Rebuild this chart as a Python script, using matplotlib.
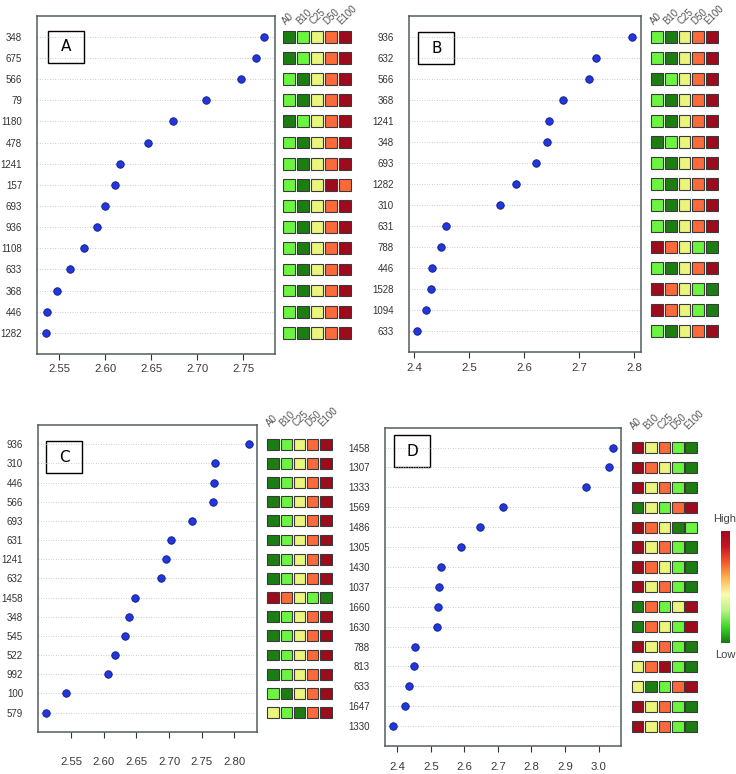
import matplotlib
matplotlib.use("Agg")
import matplotlib.pyplot as plt
from matplotlib.patches import Rectangle
from matplotlib.colors import LinearSegmentedColormap
import numpy as np

plt.rcParams["font.family"] = ["Liberation Sans", "DejaVu Sans"]

W, H = 736, 774

conds = ["A0", "B10", "C25", "D50", "E100"]

# panel A ------------------------------
a_labels = ["348", "675", "566", "79", "1180", "478", "1241", "157", "693", "936",
            "1108", "633", "368", "446", "1282"]
a_values = [2.772, 2.764, 2.747, 2.709, 2.674, 2.646, 2.616, 2.611, 2.600, 2.591,
            2.577, 2.562, 2.547, 2.537, 2.536]
a_ranks = [[1, 2, 3, 4, 5], [1, 2, 3, 4, 5], [2, 1, 3, 4, 5], [2, 1, 3, 4, 5],
           [1, 2, 3, 4, 5], [2, 1, 3, 4, 5], [2, 1, 3, 4, 5], [2, 1, 3, 5, 4],
           [2, 1, 3, 4, 5], [2, 1, 3, 4, 5], [2, 1, 3, 4, 5], [2, 1, 3, 4, 5],
           [2, 1, 3, 4, 5], [2, 1, 3, 4, 5], [2, 1, 3, 4, 5]]

# panel B ------------------------------
b_labels = ["936", "632", "566", "368", "1241", "348", "693", "1282", "310", "631",
            "788", "446", "1528", "1094", "633"]
b_values = [2.796, 2.730, 2.717, 2.670, 2.645, 2.641, 2.621, 2.585, 2.556, 2.458,
            2.449, 2.433, 2.430, 2.422, 2.405]
b_ranks = [[2, 1, 3, 4, 5], [2, 1, 3, 4, 5], [1, 2, 3, 4, 5], [2, 1, 3, 4, 5],
           [2, 1, 3, 4, 5], [1, 2, 3, 4, 5], [2, 1, 3, 4, 5], [2, 1, 3, 4, 5],
           [2, 1, 3, 4, 5], [2, 1, 3, 4, 5], [5, 4, 3, 2, 1], [2, 1, 3, 4, 5],
           [5, 4, 3, 2, 1], [5, 4, 3, 2, 1], [2, 1, 3, 4, 5]]

# panel C ------------------------------
c_labels = ["936", "310", "446", "566", "693", "631", "1241", "632", "1458", "348",
            "545", "522", "992", "100", "579"]
c_values = [2.822, 2.770, 2.769, 2.768, 2.735, 2.703, 2.695, 2.687, 2.648, 2.638,
            2.633, 2.618, 2.606, 2.543, 2.512]
c_ranks = [[1, 2, 3, 4, 5], [1, 2, 3, 4, 5], [1, 2, 3, 4, 5], [1, 2, 3, 4, 5],
           [1, 2, 3, 4, 5], [1, 2, 3, 4, 5], [1, 2, 3, 4, 5], [1, 2, 3, 4, 5],
           [5, 4, 3, 2, 1], [1, 2, 3, 4, 5], [1, 2, 3, 4, 5], [1, 2, 3, 4, 5],
           [1, 2, 3, 4, 5], [2, 1, 3, 4, 5], [3, 2, 1, 4, 5]]

# panel D ------------------------------
d_labels = ["1458", "1307", "1333", "1569", "1486", "1305", "1430", "1037", "1660",
            "1630", "788", "813", "633", "1647", "1330"]
d_values = [3.042, 3.031, 2.963, 2.715, 2.647, 2.589, 2.529, 2.525, 2.522, 2.519,
            2.451, 2.450, 2.435, 2.422, 2.388]
d_ranks = [[5, 3, 4, 2, 1], [5, 4, 3, 2, 1], [5, 3, 4, 2, 1], [1, 3, 2, 4, 5],
           [5, 4, 3, 1, 2], [5, 3, 4, 2, 1], [5, 4, 3, 2, 1], [5, 3, 4, 2, 1],
           [1, 4, 2, 3, 5], [1, 4, 3, 2, 5], [5, 3, 4, 2, 1], [3, 4, 5, 2, 1],
           [3, 1, 2, 4, 5], [5, 3, 4, 2, 1], [5, 3, 4, 2, 1]]

rank_colors = ["#1b7d12", "#6cf53f", "#ebf57c", "#fc6a3c", "#9e0b1d"]
scale_colors = ["#167a10", "#3fd82a", "#b8f580", "#fafcb0", "#fdb84e",
                "#f55a2a", "#c81424", "#9b0b20"]

fig = plt.figure(figsize=(W / 100, H / 100), dpi=100)


def px_axes(x0, y0, x1, y1):
    return fig.add_axes([x0 / W, 1 - y1 / H, (x1 - x0) / W, (y1 - y0) / H])


def dot_panel(box, labels, values, xlim, ticks, fmt, letter, lbox, xpad):
    ax = px_axes(*box)
    n = len(labels)
    ys = np.arange(n, 0, -1)
    ax.hlines(ys, xlim[0], xlim[1], colors="#b8bcc0", linestyles=(0, (1, 2)), lw=0.6)
    ax.plot(values, ys, "o", ms=5.4, mfc="#2236dd", mec="#101c80", mew=0.6, ls="none")
    ax.set_xlim(xlim)
    ax.set_ylim(0, n + 1)
    ax.set_yticks(ys, labels)
    ax.set_xticks(ticks, [fmt.format(t) for t in ticks])
    ax.tick_params(axis="y", length=0, pad=11, labelsize=7, labelcolor="#333333")
    ax.tick_params(axis="x", length=4.5, width=0.8, color="#333333", pad=xpad,
                   labelsize=8.2, labelcolor="#3a3a3a")
    for s in ax.spines.values():
        s.set_color("#525c5e")
        s.set_linewidth(1.1)
    # panel letter in a box
    bw = box[2] - box[0]
    bh = box[3] - box[1]
    dx, dy = lbox
    ax.add_patch(Rectangle((dx / bw, 1 - (dy + 32) / bh), 36 / bw, 32 / bh,
                           transform=ax.transAxes, fc="white", ec="black", lw=1.0))
    ax.text((dx + 18) / bw, 1 - (dy + 16) / bh, letter, transform=ax.transAxes,
            ha="center", va="center", fontsize=11, family=["DejaVu Sans"])
    return ax


def heat_panel(box, ranks, head_y):
    ax = px_axes(*box)
    n = len(ranks)
    ys = np.arange(n, 0, -1)
    for i, row in enumerate(ranks):
        for j, r in enumerate(row):
            ax.add_patch(Rectangle((j - 0.43, ys[i] - 0.28), 0.86, 0.56,
                                   fc=rank_colors[r - 1], ec="#3a3a3a", lw=0.8))
    for j, c in enumerate(conds):
        ax.text(j - 0.25, head_y, c, rotation=45, rotation_mode="anchor",
                ha="left", va="baseline", fontsize=7, color="#555555", clip_on=False)
    ax.set_xlim(-0.5, 4.5)
    ax.set_ylim(0, n + 1)
    ax.axis("off")
    return ax


dot_panel((37.3, 15.7, 275, 354), a_labels, a_values, (2.526, 2.7845),
          [2.55, 2.60, 2.65, 2.70, 2.75], "{:.2f}", "A", (11, 15), 2.5)
heat_panel((282.5, 15.7, 352, 354), a_ranks, 15.55)

dot_panel((409.3, 15.7, 640.5, 351.7), b_labels, b_values, (2.391, 2.811),
          [2.4, 2.5, 2.6, 2.7, 2.8], "{:.1f}", "B", (9, 16.5), 3.5)
heat_panel((650.1, 15.7, 718.9, 351.7), b_ranks, 15.55)

dot_panel((38.3, 425, 257.3, 731.7), c_labels, c_values, (2.500, 2.835),
          [2.55, 2.60, 2.65, 2.70, 2.75, 2.80], "{:.2f}", "C", (8, 16.3), 14)
heat_panel((266.4, 425, 332.6, 731.7), c_ranks, 15.9)

dot_panel((385, 427.7, 621, 746), d_labels, d_values, (2.363, 3.067),
          [2.4, 2.5, 2.6, 2.7, 2.8, 2.9, 3.0], "{:.1f}", "D", (9.3, 7.6), 7)
heat_panel((631, 427.7, 697.9, 746), d_ranks, 15.9)

# colour key for the ranks
cax = px_axes(721, 530.7, 729, 643.3)
cmap = LinearSegmentedColormap.from_list("key", scale_colors)
cax.imshow(np.linspace(0, 1, 256).reshape(-1, 1), cmap=cmap, aspect="auto",
           origin="lower", extent=(0, 1, 0, 1))
cax.set_xticks([])
cax.set_yticks([])
for s in cax.spines.values():
    s.set_visible(False)
cax.text(0.5, 1.06, "High", transform=cax.transAxes, ha="center", va="bottom",
         fontsize=8, color="#444444")
cax.text(0.5, -0.06, "Low", transform=cax.transAxes, ha="center", va="top",
         fontsize=8, color="#444444")

fig.savefig("out.png", dpi=100)
